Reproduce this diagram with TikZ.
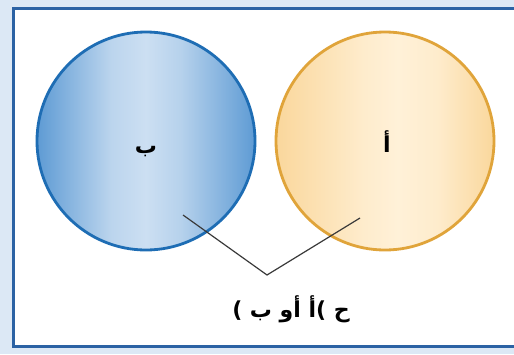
\documentclass[tikz,border=0pt]{standalone}
\usepackage{fontspec}
\newfontfamily\arabicfont[Script=Arabic]{DejaVu Sans}
\newfontfamily\parenfont{DejaVu Sans}
\TeXXeTstate=1
\usetikzlibrary{calc}

\definecolor{frameblue}{HTML}{2B62A4}
\definecolor{bgblue}{HTML}{DCE8F5}
\definecolor{bcedge}{HTML}{5E9BD4}
\definecolor{bclight}{HTML}{CCDFF2}
\definecolor{bcline}{HTML}{1E6DB4}
\definecolor{ocedge}{HTML}{FAD79C}
\definecolor{oclight}{HTML}{FFF1D8}
\definecolor{ocline}{HTML}{E0A43A}
\definecolor{leader}{HTML}{3A3A3A}

\pgfdeclarehorizontalshading{bshade}{100bp}{color(0bp)=(bcedge); color(25bp)=(bcedge);
 color(42bp)=(bclight!85!bcedge); color(50bp)=(bclight); color(58bp)=(bclight!80!bcedge);
 color(75bp)=(bcedge); color(100bp)=(bcedge)}
\pgfdeclarehorizontalshading{oshade}{100bp}{color(0bp)=(ocedge); color(25bp)=(ocedge);
 color(45bp)=(oclight!80!ocedge); color(53bp)=(oclight); color(62bp)=(oclight!80!ocedge);
 color(75bp)=(ocedge); color(100bp)=(ocedge)}

\begin{document}
\begin{tikzpicture}[x=0.5pt,y=-0.5pt,
 set/.style={circle,minimum size=109pt,line width=1.4pt},
 lbl/.style={font=\arabicfont\bfseries\fontsize{11}{13}\selectfont,text=black}]
\useasboundingbox (0,0) rectangle (514,354);
% background and frame
\fill[bgblue] (0,0) rectangle (514,354);
\fill[white] (13,8) rectangle (514,346);
\begin{scope}
\clip (0,0) rectangle (514,354);
\draw[frameblue,line width=1.5pt] (13,8) rectangle (530,346);
\end{scope}

% the two sets
\node[set,draw=bcline,shading=bshade] (B) at (146,141) {};
\node[set,draw=ocline,shading=oshade] (A) at (385,141) {};
\node[lbl] (Blbl) at (146,152) {\beginR ب\endR};
\node[lbl] (Albl) at (387,142) {\beginR أ\endR};

% leader lines to the label
\coordinate (pB) at (183,215);
\coordinate (pA) at (360,218);
\coordinate (apex) at (267,275);
\node[lbl] (Clbl) at (291,309) {{\parenfont(}\ \beginR أ أو ب\endR{\parenfont(}\ \beginR ح\endR};
\draw[leader,line width=0.6pt] (pB) -- (apex) -- (pA);
\end{tikzpicture}
\end{document}
